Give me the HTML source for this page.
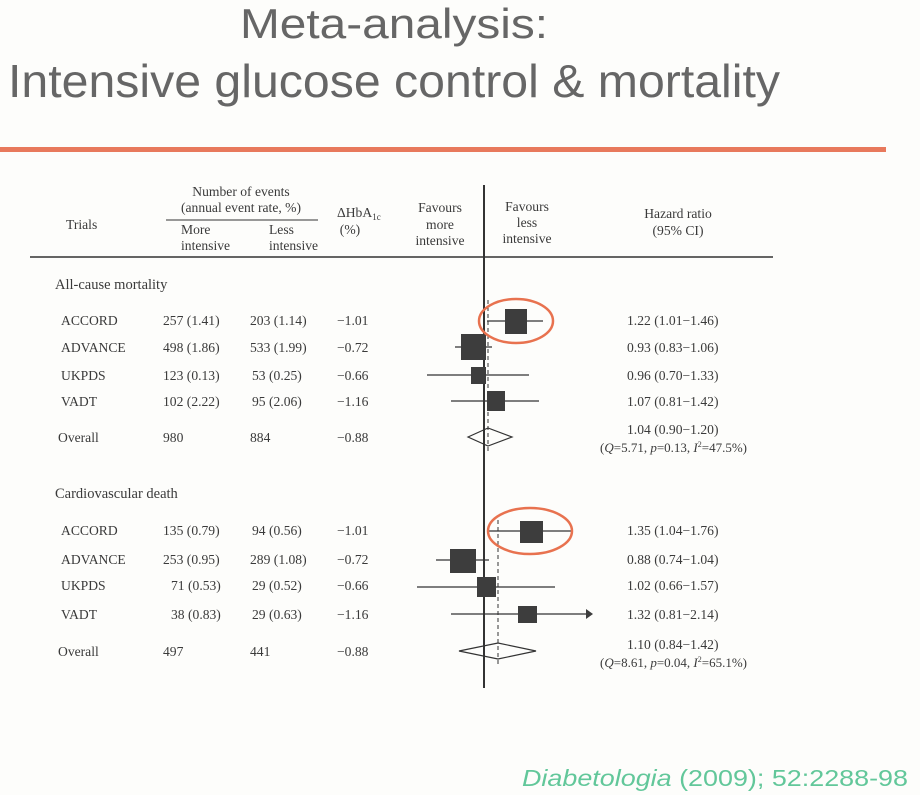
<!DOCTYPE html>
<html><head><meta charset="utf-8"><style>
html,body{margin:0;padding:0;background:#fdfdfb;}
svg{display:block}
.t{font-family:"Liberation Serif",serif;font-size:13.6px;fill:#3a3a3a}
.h{font-family:"Liberation Sans",sans-serif;fill:#666}
</style></head><body>
<svg width="920" height="795" viewBox="0 0 920 795" xmlns="http://www.w3.org/2000/svg">
<rect width="920" height="795" fill="#fdfdfb"/>
<text class="h" x="240" y="38" font-size="42" textLength="308" lengthAdjust="spacingAndGlyphs">Meta-analysis:</text>
<text class="h" x="8" y="97" font-size="46" textLength="772" lengthAdjust="spacingAndGlyphs">Intensive glucose control &amp; mortality</text>
<rect x="0" y="147" width="886" height="5" fill="#e8795c"/>

<g class="t">
<text x="66" y="229">Trials</text>
<text x="241" y="196" text-anchor="middle">Number of events</text>
<text x="241" y="212" text-anchor="middle">(annual event rate, %)</text>
<text x="181" y="234">More</text><text x="181" y="250">intensive</text>
<text x="269" y="234">Less</text><text x="269" y="250">intensive</text>
<text x="337" y="217">ΔHbA<tspan font-size="9" dy="3">1c</tspan></text>
<text x="350" y="234" text-anchor="middle">(%)</text>
<text x="440" y="212" text-anchor="middle">Favours</text>
<text x="440" y="229" text-anchor="middle">more</text>
<text x="440" y="245" text-anchor="middle">intensive</text>
<text x="527" y="211" text-anchor="middle">Favours</text>
<text x="527" y="227" text-anchor="middle">less</text>
<text x="527" y="243" text-anchor="middle">intensive</text>
<text x="678" y="218" text-anchor="middle">Hazard ratio</text>
<text x="678" y="235" text-anchor="middle">(95% CI)</text>

<text x="55" y="289" font-size="14.5">All-cause mortality</text>
<text x="61" y="325">ACCORD</text><text x="163" y="325">257 (1.41)</text><text x="250" y="325">203 (1.14)</text><text x="337" y="325">−1.01</text><text x="627" y="325">1.22 (1.01−1.46)</text>
<text x="61" y="352">ADVANCE</text><text x="163" y="352">498 (1.86)</text><text x="250" y="352">533 (1.99)</text><text x="337" y="352">−0.72</text><text x="627" y="352">0.93 (0.83−1.06)</text>
<text x="61" y="380">UKPDS</text><text x="163" y="380">123 (0.13)</text><text x="252" y="380">53  (0.25)</text><text x="337" y="380">−0.66</text><text x="627" y="380">0.96 (0.70−1.33)</text>
<text x="61" y="406">VADT</text><text x="163" y="406">102 (2.22)</text><text x="252" y="406">95  (2.06)</text><text x="337" y="406">−1.16</text><text x="627" y="406">1.07 (0.81−1.42)</text>
<text x="58" y="442">Overall</text><text x="163" y="442">980</text><text x="250" y="442">884</text><text x="337" y="442">−0.88</text><text x="627" y="434">1.04 (0.90−1.20)</text>
<text x="600" y="452" font-size="13">(<tspan font-style="italic">Q</tspan>=5.71, <tspan font-style="italic">p</tspan>=0.13, <tspan font-style="italic">I</tspan><tspan font-size="8" dy="-5">2</tspan><tspan dy="5">=47.5%)</tspan></text>

<text x="55" y="498" font-size="14.5">Cardiovascular death</text>
<text x="61" y="535">ACCORD</text><text x="163" y="535">135 (0.79)</text><text x="252" y="535">94  (0.56)</text><text x="337" y="535">−1.01</text><text x="627" y="535">1.35 (1.04−1.76)</text>
<text x="61" y="564">ADVANCE</text><text x="163" y="564">253 (0.95)</text><text x="250" y="564">289 (1.08)</text><text x="337" y="564">−0.72</text><text x="627" y="564">0.88 (0.74−1.04)</text>
<text x="61" y="590">UKPDS</text><text x="171" y="590">71  (0.53)</text><text x="252" y="590">29  (0.52)</text><text x="337" y="590">−0.66</text><text x="627" y="590">1.02 (0.66−1.57)</text>
<text x="61" y="619">VADT</text><text x="171" y="619">38  (0.83)</text><text x="252" y="619">29  (0.63)</text><text x="337" y="619">−1.16</text><text x="627" y="619">1.32 (0.81−2.14)</text>
<text x="58" y="656">Overall</text><text x="163" y="656">497</text><text x="250" y="656">441</text><text x="337" y="656">−0.88</text><text x="627" y="649">1.10 (0.84−1.42)</text>
<text x="600" y="667" font-size="13">(<tspan font-style="italic">Q</tspan>=8.61, <tspan font-style="italic">p</tspan>=0.04, <tspan font-style="italic">I</tspan><tspan font-size="8" dy="-5">2</tspan><tspan dy="5">=65.1%)</tspan></text>
</g>

<g stroke="#333" fill="none">
<line x1="166" y1="220" x2="318" y2="220" stroke-width="1"/>
<line x1="30" y1="257" x2="773" y2="257" stroke-width="1.5"/>
<line x1="484" y1="185" x2="484" y2="688" stroke-width="2"/>
<line x1="488" y1="300" x2="488" y2="452" stroke-width="1" stroke-dasharray="4,3"/>
<line x1="498" y1="520" x2="498" y2="665" stroke-width="1" stroke-dasharray="4,3"/>
<g stroke-width="1.2">
<line x1="487" y1="321" x2="543" y2="321"/>
<line x1="455" y1="347" x2="492" y2="347"/>
<line x1="427" y1="375" x2="529" y2="375"/>
<line x1="451" y1="401" x2="539" y2="401"/>
<line x1="488" y1="531" x2="573" y2="531"/>
<line x1="436" y1="560" x2="489" y2="560"/>
<line x1="417" y1="587" x2="555" y2="587"/>
<line x1="451" y1="614" x2="587" y2="614"/>
</g>
<polygon points="468,437 488,428 512,437 488,446" stroke-width="1.2"/>
<polygon points="459,651 498,643 536,651 498,659" stroke-width="1.2"/>
</g>
<g fill="#3d3d3d">
<rect x="505" y="309" width="22" height="25"/>
<rect x="461" y="334" width="25" height="26"/>
<rect x="471" y="367" width="15" height="17"/>
<rect x="487" y="391" width="18" height="20"/>
<rect x="520" y="521" width="23" height="22"/>
<rect x="450" y="549" width="26" height="24"/>
<rect x="477" y="577" width="19" height="20"/>
<rect x="518" y="606" width="19" height="17"/>
<polygon points="586,609 593,614 586,619"/>
</g>
<ellipse cx="516" cy="321" rx="37" ry="22" fill="none" stroke="#e8724f" stroke-width="2.5"/>
<ellipse cx="530" cy="531" rx="42" ry="23" fill="none" stroke="#e8724f" stroke-width="2.5"/>

<text x="522" y="786" font-family="Liberation Sans,sans-serif" font-size="23" fill="#62c79a" textLength="386" lengthAdjust="spacingAndGlyphs"><tspan font-style="italic">Diabetologia</tspan> (2009); 52:2288-98</text>
</svg>
</body></html>
